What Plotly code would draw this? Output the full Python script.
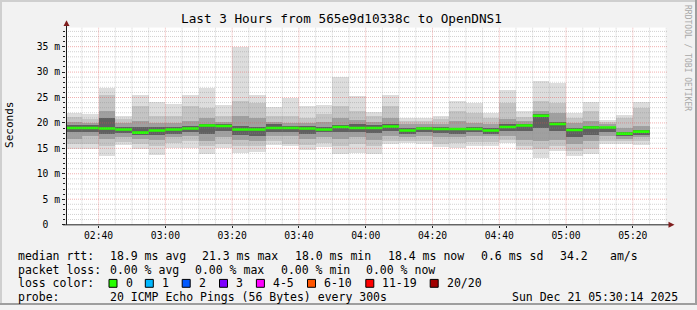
import pandas as pd
import plotly.graph_objects as go

W, H = 697, 310
FONT = "DejaVu Sans Mono"

# ---------------- data (ms), one value per 5-minute step ----------------
step_start = "2025-12-21 02:30:00"
n_steps = 35
median_rtt = [19.0, 19.0, 18.9, 18.7, 18.1, 18.5, 18.7, 18.9, 19.5, 19.4, 18.7, 18.7,
              19.0, 19.0, 18.9, 18.7, 19.2, 19.0, 19.0, 19.3, 18.5, 18.9, 18.8, 18.8,
              18.8, 18.5, 19.2, 19.5, 21.4, 19.8, 18.6, 19.1, 19.1, 17.9, 18.3]
rtt_min = [15.0, 15.0, 13.6, 15.8, 14.9, 13.7, 15.2, 15.2, 14.0, 15.2, 14.2, 14.4,
           15.8, 15.5, 14.8, 15.3, 14.0, 14.2, 14.0, 15.9, 16.1, 15.9, 15.3, 15.2,
           15.5, 15.5, 16.1, 14.7, 13.1, 14.5, 13.6, 13.9, 15.9, 15.9, 15.8]
rtt_max = [22.1, 21.9, 27.0, 21.5, 25.5, 24.3, 23.8, 25.6, 27.0, 23.7, 35.1, 25.6,
           23.3, 25.0, 23.4, 23.7, 29.1, 25.4, 22.3, 25.6, 21.0, 21.0, 21.4, 24.5,
           24.1, 22.0, 26.5, 22.4, 28.4, 27.9, 22.0, 24.3, 20.7, 21.7, 24.3]
band2_lo = [16.0, 16.0, 15.5, 16.3, 16.0, 15.5, 16.2, 16.5, 15.5, 16.0, 15.5, 15.5,
            16.5, 16.0, 15.8, 16.2, 15.5, 16.0, 15.5, 16.5, 16.6, 16.5, 16.0, 16.2,
            16.3, 16.3, 16.8, 15.5, 15.0, 15.5, 14.5, 15.0, 16.5, 16.5, 16.5]
band2_hi = [21.2, 20.8, 25.5, 20.8, 23.5, 21.5, 21.5, 23.5, 23.0, 21.5, 24.5, 24.0,
            21.5, 21.5, 21.0, 21.8, 23.5, 22.5, 21.5, 23.5, 20.5, 20.5, 20.8, 22.5,
            22.0, 21.0, 24.0, 21.3, 24.5, 24.0, 21.0, 22.5, 20.3, 21.0, 23.0]
band3_lo = [17.0, 17.5, 17.0, 17.3, 17.0, 16.8, 17.3, 17.5, 16.5, 17.3, 16.8, 16.5,
            17.5, 17.5, 17.0, 17.3, 17.0, 17.3, 16.8, 17.5, 17.3, 17.5, 17.3, 17.3,
            17.5, 17.5, 17.5, 16.8, 16.5, 16.8, 16.0, 16.5, 17.5, 17.0, 17.3]
band3_hi = [20.3, 20.0, 22.5, 20.0, 20.5, 20.0, 20.0, 20.5, 21.0, 20.3, 21.5, 21.0,
            20.3, 20.0, 20.0, 20.3, 21.0, 20.7, 20.3, 21.0, 19.8, 19.8, 19.8, 20.5,
            20.0, 19.8, 20.8, 20.5, 22.5, 22.0, 20.0, 20.5, 19.8, 19.0, 19.5]
band4_lo = [18.3, 18.4, 18.0, 18.2, 17.7, 17.8, 18.0, 18.3, 18.0, 18.5, 17.8, 17.5,
            18.3, 18.3, 18.0, 18.3, 18.3, 18.3, 18.2, 18.5, 18.0, 18.3, 18.2, 18.0,
            18.3, 18.0, 18.5, 18.5, 19.0, 18.5, 17.3, 17.8, 18.3, 17.5, 17.8]
band4_hi = [19.7, 19.6, 21.0, 19.3, 19.3, 19.2, 19.3, 19.5, 19.8, 19.8, 19.5, 19.3,
            19.8, 19.5, 19.4, 19.2, 19.7, 19.8, 19.6, 19.8, 19.0, 19.3, 19.3, 19.0,
            19.3, 19.0, 19.8, 19.8, 21.8, 20.3, 19.0, 19.5, 19.3, 18.3, 18.7]

y_tickvals = [0, 5, 10, 15, 20, 25, 30, 35]
y_ticktext = ["0\u00a0\u00a0", "5 m", "10 m", "15 m", "20 m", "25 m", "30 m", "35 m"]
x_ticktext = ["02:40", "03:00", "03:20", "03:40", "04:00", "04:20", "04:40", "05:00", "05:20"]

title_text = "Last 3 Hours from 565e9d10338c to OpenDNS1"
rtt_stats = ["18.9 ms avg", "21.3 ms max", "18.0 ms min", "18.4 ms now", "0.6 ms sd", "34.2", "am/s"]
loss_stats = ["0.00 % avg", "0.00 % max", "0.00 % min", "0.00 % now"]
loss_labels = ["0", "1", "2", "3", "4-5", "6-10", "11-19", "20/20"]
loss_colors = ["#26ff00", "#00b8ff", "#0059ff", "#7e00ff", "#ff00ff", "#ff5500", "#ff0000", "#a10000"]
probe_text = "20 ICMP Echo Pings (56 Bytes) every 300s"
stamp_text = "Sun Dec 21 05:30:14 2025"

range_start = pd.Timestamp("2025-12-21 02:30:14")
range_end = pd.Timestamp("2025-12-21 05:30:14")

# ---------------- helpers ----------------
def px(x):
    return x / W

def py(y):
    return 1 - y / H

starts = pd.date_range(step_start, periods=n_steps, freq="5min")
centers = starts + pd.Timedelta(minutes=2.5)
ends = starts + pd.Timedelta(minutes=5)
STEP_MS = 300000

fig = go.Figure()

bands = [(rtt_min, rtt_max, "#dddddd"),
         (band2_lo, band2_hi, "#c4c4c4"),
         (band3_lo, band3_hi, "#a0a0a0"),
         (band4_lo, band4_hi, "#606060")]
for lo, hi, col in bands:
    fig.add_trace(go.Bar(
        x=centers, y=[h - l for l, h in zip(lo, hi)], base=lo, width=STEP_MS,
        marker=dict(color=col, line=dict(width=0)), hoverinfo="skip", showlegend=False))

mx, my = [], []
for s, e, m in zip(starts, ends, median_rtt):
    mx += [s, e, None]
    my += [m, m, None]
fig.add_trace(go.Scatter(x=mx, y=my, mode="lines", line=dict(color=loss_colors[0], width=2.6),
                         hoverinfo="skip", showlegend=False))

Y_TOP = 38.76
X0, X1 = 66.0, 667.0
YB, YT = 228.3, 28.0

shapes = []
minor_grid = "rgba(143,143,143,0.40)"
major_grid = "rgba(222,79,79,0.45)"
for v in range(1, 39):
    shapes.append(dict(type="line", xref="x", yref="y", x0=range_start, x1=range_end, y0=v, y1=v,
                       line=dict(color=major_grid if v % 5 == 0 else minor_grid, width=1, dash="1px,1px"),
                       layer="above"))
grid_times = pd.date_range("2025-12-21 02:35:00", "2025-12-21 05:30:00", freq="5min")
for t in grid_times:
    major = (t.minute % 20 == 0)
    shapes.append(dict(type="line", xref="x", yref="y", x0=t, x1=t, y0=0, y1=Y_TOP,
                       line=dict(color=major_grid if major else minor_grid, width=1, dash="1px,1px"),
                       layer="above"))

# axes and arrows
AXIS = "#1f1f1f"
ARROW = "#801f1f"
shapes.append(dict(type="line", xref="paper", yref="paper", x0=px(66.5), x1=px(66.5), y0=py(228.5), y1=py(24),
                   line=dict(color=AXIS, width=1), layer="above"))
shapes.append(dict(type="line", xref="paper", yref="paper", x0=px(63), x1=px(670), y0=py(228.5), y1=py(228.5),
                   line=dict(color=AXIS, width=1), layer="above"))
shapes.append(dict(type="path", xref="paper", yref="paper",
                   path=f"M {px(63.5)} {py(26.5)} L {px(69.5)} {py(26.5)} L {px(66.5)} {py(20.5)} Z",
                   fillcolor=ARROW, line=dict(width=0), layer="above"))
shapes.append(dict(type="path", xref="paper", yref="paper",
                   path=f"M {px(668.5)} {py(225.5)} L {px(668.5)} {py(231.5)} L {px(674.5)} {py(228.5)} Z",
                   fillcolor=ARROW, line=dict(width=0), layer="above"))

# frame
SHADE_A, SHADE_B = "#cfcfcf", "#9e9e9e"
shapes += [
    dict(type="rect", xref="paper", yref="paper", x0=0, x1=1, y0=py(2), y1=1, fillcolor=SHADE_A, line=dict(width=0), layer="below"),
    dict(type="rect", xref="paper", yref="paper", x0=0, x1=px(2), y0=0, y1=1, fillcolor=SHADE_A, line=dict(width=0), layer="below"),
    dict(type="rect", xref="paper", yref="paper", x0=0, x1=1, y0=0, y1=py(308), fillcolor=SHADE_B, line=dict(width=0), layer="below"),
    dict(type="rect", xref="paper", yref="paper", x0=px(695), x1=1, y0=0, y1=1, fillcolor=SHADE_B, line=dict(width=0), layer="below"),
]

L1, L2, L3, L4 = 260, 274, 288, 302

# loss colour boxes
box_x = [109, 145.3, 182.2, 219.5, 256.4, 307.5, 365.8, 430.2]
for bx, col in zip(box_x, loss_colors):
    shapes.append(dict(type="rect", xref="paper", yref="paper", x0=px(bx), x1=px(bx + 8),
                       y0=py(L3 + 4), y1=py(L3 - 4), fillcolor=col, line=dict(color="#000000", width=1)))

ann = []
def text(x, y, s, size=11.5, anchor="left", color="#000000", angle=0):
    ann.append(dict(x=px(x), y=py(y), xref="paper", yref="paper", text=s, showarrow=False,
                    xanchor=anchor, yanchor="middle", textangle=angle,
                    font=dict(family=FONT, size=size, color=color)))

text(341, 19, title_text, size=12.7, anchor="center")
text(10, 127, "Seconds", size=11, anchor="center", angle=-90)
text(688, 59, "RRDTOOL / TOBI OETIKER", size=8, anchor="center", color="#a8a8a8", angle=90)

text(16, L1, "median rtt:")
for x, s in zip([107.6, 200.2, 292.8, 386.2, 479.0, 557.8, 607.6], rtt_stats):
    text(x, L1, s)
text(16, L2, "packet loss:")
for x, s in zip([107.6, 193.1, 278.6, 364.2], loss_stats):
    text(x, L2, s)
text(16, L3, "loss color:")
for bx, s in zip(box_x, loss_labels):
    text(bx + 14.5, L3, s)
text(16, L4, "probe:")
text(107.6, L4, probe_text)
text(680, L4, stamp_text, anchor="right")

fig.update_layout(
    width=W, height=H, margin=dict(l=0, r=0, t=0, b=0),
    paper_bgcolor="#f2f2f2", plot_bgcolor="#ffffff",
    barmode="overlay", bargap=0, showlegend=False,
    shapes=shapes, annotations=ann,
    xaxis=dict(type="date", domain=[px(X0), px(X1)], range=[range_start, range_end],
               tickvals=pd.date_range("2025-12-21 02:40", periods=len(x_ticktext), freq="20min"),
               ticktext=x_ticktext, showgrid=False, zeroline=False, showline=False,
               ticks="outside", ticklen=2, tickcolor=AXIS,
               tickfont=dict(family=FONT, size=9.7, color="#000000"), fixedrange=True),
    yaxis=dict(domain=[py(YB), py(YT)], range=[0, Y_TOP], tickvals=y_tickvals, ticktext=y_ticktext,
               showgrid=False, zeroline=False, showline=False,
               ticks="outside", ticklen=3, tickcolor=AXIS,
               minor=dict(dtick=1, ticks="outside", ticklen=2, tickcolor=AXIS, showgrid=False),
               tickfont=dict(family=FONT, size=9.7, color="#000000"), fixedrange=True),
)

fig.write_html("out.html")
